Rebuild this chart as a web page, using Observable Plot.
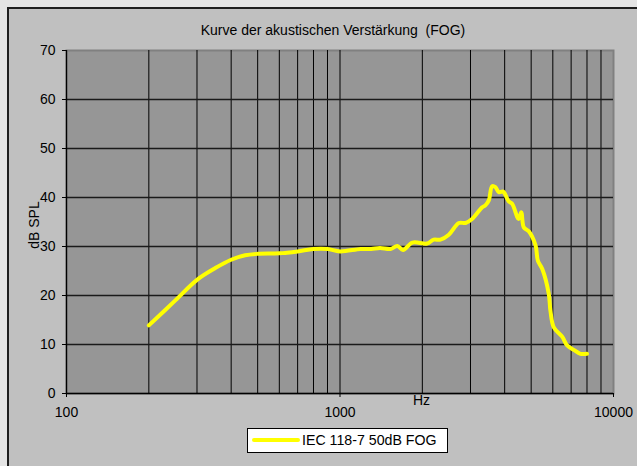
<!DOCTYPE html>
<html>
<head>
<meta charset="utf-8">
<script src="https://cdn.jsdelivr.net/npm/d3@7"></script>
<script src="https://cdn.jsdelivr.net/npm/@observablehq/plot@0.6"></script>
<style>
  html, body { margin: 0; padding: 0; }
  body { width: 637px; height: 466px; overflow: hidden; background: #e4e4e4; position: relative;
         font-family: "Liberation Sans", Arial, sans-serif; color: #000; }
  #frame { position: absolute; left: 7px; top: 7px; width: 700px; height: 520px;
           border-left: 2px solid #1e1e1e; border-top: 2px solid #1e1e1e; background: #c0c0c0; }
  #chart { position: absolute; left: 0; top: 0; }
  .lbl { position: absolute; white-space: pre; font-size: 14px; line-height: 1; }
  #title { font-size: 14px; left: 333px; top: 23px; transform: translateX(-50%); }
  #hz { left: 421.5px; top: 393px; transform: translateX(-50%); }
  #ylab { left: 34px; top: 225px; transform: translate(-50%, -50%) rotate(-90deg); }
  #legend { position: absolute; left: 247px; top: 428px; width: 199px; height: 23px;
            background: #fff; border: 1px solid #000; }
  #legend .swatch { position: absolute; left: 4px; top: 9px; width: 48px; height: 4px; background: #ffff00; border-radius: 2px; }
  #legend .txt { position: absolute; left: 54px; top: 4px; font-size: 14.2px; line-height: 1; white-space: pre; }
</style>
</head>
<body>
<div id="frame"></div>
<div id="chart"></div>
<div class="lbl" id="title"></div>
<div class="lbl" id="hz"></div>
<div class="lbl" id="ylab"></div>
<div id="legend"><div class="swatch"></div><div class="txt"></div></div>
<script>
const titleText = "Kurve der akustischen Verstärkung  (FOG)";
const seriesName = "IEC 118-7 50dB FOG";
const xLabel = "Hz";
const yLabel = "dB SPL";

const freqHz = [200, 250, 300, 350, 400, 450, 500, 600, 700, 800, 900, 1000, 1190, 1300, 1400, 1530, 1620, 1700, 1840, 2080, 2200, 2330, 2500, 2720, 2880, 3040, 3310, 3400, 3500, 3600, 3700, 3810, 3950, 4140, 4260, 4500, 4600, 4700, 4900, 5190, 5290, 5490, 5800, 5880, 6050, 6490, 6770, 7160, 7570, 8000];
const gainDb = [13.9, 19.0, 23.2, 25.6, 27.3, 28.2, 28.5, 28.6, 29.0, 29.5, 29.5, 29.0, 29.5, 29.5, 29.7, 29.5, 30.1, 29.3, 30.8, 30.6, 31.4, 31.4, 32.4, 34.8, 34.8, 35.6, 38.0, 38.4, 39.4, 42.3, 42.1, 41.1, 41.2, 39.2, 38.7, 35.6, 37.0, 33.9, 33.1, 30.2, 27.1, 25.4, 20.3, 16.9, 13.5, 11.6, 9.8, 8.9, 8.1, 8.1];

const xTicks = [100, 1000, 10000];
const xGrid = [200, 300, 400, 500, 600, 700, 800, 900, 1000, 2000, 3000, 4000, 5000, 6000, 7000, 8000, 9000];
const yTicks = [0, 10, 20, 30, 40, 50, 60, 70];
const yGrid = [10, 20, 30, 40, 50, 60];

document.getElementById("title").textContent = titleText;
document.getElementById("hz").textContent = xLabel;
document.getElementById("ylab").textContent = yLabel;
document.querySelector("#legend .txt").textContent = seriesName;

const data = freqHz.map((f, i) => ({f, db: gainDb[i]}));

const chart = Plot.plot({
  width: 637,
  height: 466,
  marginLeft: 66,
  marginRight: 24,
  marginTop: 50,
  marginBottom: 73,
  style: {background: "transparent", fontFamily: "Liberation Sans, Arial, sans-serif", fontSize: "14px", color: "#000"},
  x: {type: "log", domain: [100, 10000]},
  y: {domain: [0, 70]},
  marks: [
    Plot.frame({fill: "#969696", stroke: "#808080", strokeWidth: 2}),
    Plot.ruleX(xGrid, {stroke: "#000", strokeWidth: 1}),
    Plot.ruleY(yGrid, {stroke: "#1a1a1a", strokeWidth: 1.3}),
    Plot.ruleX([100], {stroke: "#000", strokeWidth: 1.3}),
    Plot.ruleY([0], {stroke: "#000", strokeWidth: 1.3}),
    Plot.axisY({ticks: yTicks, tickSize: 4, tickPadding: 7, label: null, tickFormat: d => String(d)}),
    Plot.axisX({ticks: xTicks, tickSize: 4, tickPadding: 10, label: null, tickFormat: d => String(d)}),
    Plot.line(data, {x: "f", y: "db", stroke: "#ffff00", strokeWidth: 4, curve: "catmull-rom", strokeLinecap: "round", strokeLinejoin: "round"})
  ]
});
document.getElementById("chart").appendChild(chart);
</script>
</body>
</html>
